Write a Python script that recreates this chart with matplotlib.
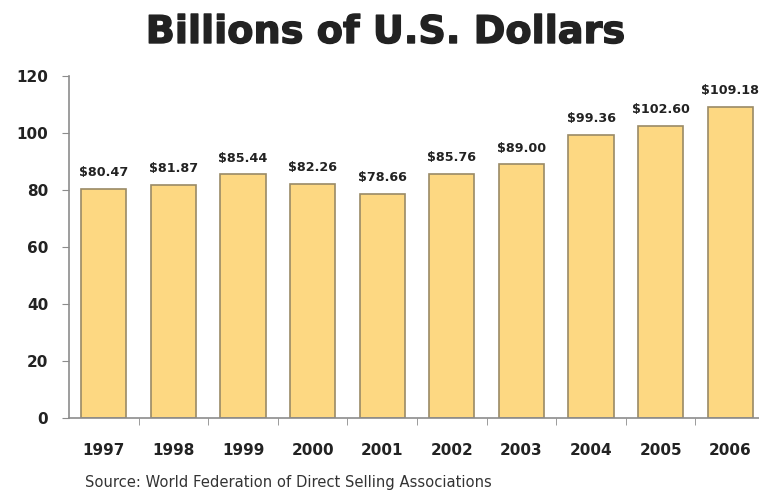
import matplotlib.pyplot as plt
import matplotlib.patheffects as pe
import numpy as np

# Dane: sprzedaż bezpośrednia w mld USD
years = ['1997', '1998', '1999', '2000', '2001', '2002', '2003', '2004', '2005', '2006']
sales = [80.47, 81.87, 85.44, 82.26, 78.66, 85.76, 89.00, 99.36, 102.60, 109.18]
y_ticks = [0, 20, 40, 60, 80, 100, 120]

plt.rcParams['font.family'] = ['DejaVu Sans']
text_col = '#222222'
axis_col = '#8c8c8c'

fig = plt.figure(figsize=(7.59, 4.92), dpi=100)
ax = fig.add_axes([69 / 759, 74 / 492, 696 / 759, 342 / 492])

x = np.arange(len(years))
bars = ax.bar(x, sales, width=0.65, color='#fdd882', edgecolor='#9a8a66', linewidth=1.2)

# Etykiety z wartościami nad słupkami
for xi, v in zip(x, sales):
    ax.annotate(f'${v:.2f}', (xi, v), xytext=(0, 7), textcoords='offset points',
                ha='center', va='bottom', fontsize=9.2, fontweight='bold', color=text_col)

ax.set_xlim(-0.5, len(years) - 0.5)
ax.set_ylim(0, 120)
ax.set_yticks(y_ticks)
ax.set_yticklabels([str(t) for t in y_ticks], fontsize=11, fontweight='bold', color=text_col)
ax.set_xticks(x)
ax.set_xticklabels(years, fontsize=11, fontweight='bold', color=text_col)
ax.tick_params(axis='x', length=0, pad=18)
ax.tick_params(axis='y', length=5, color=axis_col, pad=10)

# Kreski podziału między kategoriami
ax.set_xticks(np.arange(0.5, len(years)), minor=True)
ax.tick_params(axis='x', which='minor', length=5, color=axis_col)

for side in ['top', 'right']:
    ax.spines[side].set_visible(False)
for side in ['left', 'bottom']:
    ax.spines[side].set_color(axis_col)
    ax.spines[side].set_linewidth(1.2)

title = fig.text(386 / 759, 1 - 43 / 492, 'Billions of U.S. Dollars', ha='center', va='baseline',
                 fontsize=27.5, fontweight='bold', color=text_col)
title.set_path_effects([pe.withStroke(linewidth=1.0, foreground=text_col)])
fig.text(85 / 759, 1 - 482 / 492, 'Source: World Federation of Direct Selling Associations',
         ha='left', va='center', fontsize=10.6, color='#333333')

fig.savefig('out.png', dpi=100)
